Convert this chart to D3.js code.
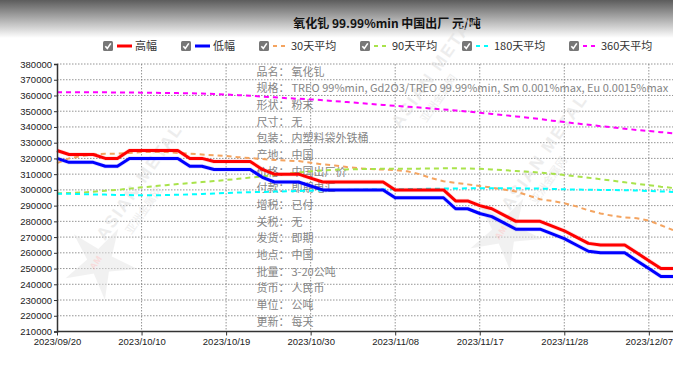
<!DOCTYPE html>
<html>
<head>
<meta charset="utf-8">
<script src="https://cdn.jsdelivr.net/npm/d3@7"></script>
<style>
  body { margin: 0; background: #fff; }
  svg { display: block; font-family: "Liberation Sans", Arial, sans-serif; }
</style>
</head>
<body>
<div id="chart"></div>
<script>
const title = '氧化钆 99.99%min 中国出厂 元/吨'

const dates = ['2023/09/20','2023/09/21','2023/09/22','2023/09/25','2023/09/26','2023/09/27','2023/10/09','2023/10/10',
  '2023/10/11','2023/10/12','2023/10/13','2023/10/16','2023/10/17','2023/10/18','2023/10/19','2023/10/20','2023/10/23',
  '2023/10/24','2023/10/25','2023/10/26','2023/10/27','2023/10/30','2023/10/31','2023/11/01','2023/11/02','2023/11/03',
  '2023/11/06','2023/11/07','2023/11/08','2023/11/09','2023/11/10','2023/11/13','2023/11/14','2023/11/15','2023/11/16',
  '2023/11/17','2023/11/20','2023/11/21','2023/11/22','2023/11/23','2023/11/24','2023/11/27','2023/11/28','2023/11/29',
  '2023/11/30','2023/12/01','2023/12/04','2023/12/05','2023/12/06','2023/12/07','2023/12/08','2023/12/11']

const high = [325000,322500,322500,322500,320000,320000,325000,325000,325000,325000,325000,320000,320000,318000,318000,
  318000,318000,313000,310000,310000,310000,307500,305000,305000,305000,305000,305000,305000,300000,300000,300000,300000,
  300000,293000,293000,290000,288000,284000,280000,280000,280000,277000,274000,270000,266000,265000,265000,265000,260000,
  255000,250000,250000]

const low = [320000,317500,317500,317500,315000,315000,320000,320000,320000,320000,320000,315000,315000,313000,313000,
  313000,313000,308000,305000,305000,305000,302500,300000,300000,300000,300000,300000,300000,295000,295000,295000,295000,
  295000,288000,288000,285000,283000,279000,275000,275000,275000,272000,269000,265000,261000,260000,260000,260000,255000,
  250000,245000,245000]

const ma30 = [317000,320000,321500,322500,323000,323000,323500,324000,324000,324000,323500,323000,322500,322000,321500,
  320800,320200,319600,319000,318600,318300,317300,316200,315500,314500,313700,313200,312900,312600,311800,310000,307500,
  305500,304500,303500,302500,301500,300200,299000,296500,294000,293000,291500,289500,287000,285000,283500,282500,282000,
  280500,277500,274500]

const ma90 = [297800,298000,298300,298800,299500,300000,300800,301600,302300,303000,303700,304300,305000,305600,306300,
  307000,307800,308600,309400,310200,311000,311800,312400,312800,313000,313200,313300,313400,313400,313500,313500,313600,
  313700,313700,313600,313400,313000,312500,312000,311500,311000,310300,309500,308600,307700,306800,305800,304800,303900,
  303000,302000,301200]

const ma180 = [297600,297500,297300,297100,297000,296800,296700,296600,296600,296700,296900,297100,297400,297700,298000,
  298300,298500,298700,298900,299100,299300,299500,299700,299900,300000,300100,300200,300300,300400,300500,300600,300700,
  300800,300900,301000,301000,301000,301000,301000,300900,300800,300600,300400,300200,300100,300000,299900,299800,299600,
  299300,299000,298700]

const ma360 = [362000,362000,362000,362000,362000,361900,361900,361800,361700,361600,361500,361400,361200,361000,360600,
  360200,359800,359300,358800,358300,357900,357500,357000,356400,355800,355200,354600,354000,353400,352900,352300,351700,
  351100,350500,349800,349000,348300,347500,346700,345900,345000,344000,343100,342200,341400,340500,339700,338900,338100,
  337400,336700,336000]

const yTicks = [210000,220000,230000,240000,250000,260000,270000,280000,290000,300000,310000,320000,330000,340000,350000,
  360000,370000,380000]
const xTicks = ['2023/09/20','2023/10/10','2023/10/19','2023/10/30','2023/11/08','2023/11/17','2023/11/28','2023/12/07']

const seriesNames = ['高幅','低幅','30天平均','90天平均','180天平均','360天平均']

const infoLabels = ['品名','规格','形状','尺寸','包装','产地','价格','付款','增税','关税','发货','地点','批量','货币','单位','更新']
const infoValues = ['氧化钆','TREO 99%min, Gd2O3/TREO 99.99%min, Sm 0.001%max, Eu 0.0015%max','粉末','无','内塑料袋外铁桶',
  '中国','中国出厂价','即期电汇','已付','无','即期','中国','3-20公吨','人民币','公吨','每天']

class PriceChart {
  constructor (_config, parentElement) {
    this.config = {
      width: _config.width,
      height: _config.height,
      margin: {top: 64, right: 0, bottom: 39.5, left: 57},
      parentElement: parentElement
    }
    this.config.visWidth = this.config.width - this.config.margin.left - this.config.margin.right
    this.config.visHeight = this.config.height - this.config.margin.top - this.config.margin.bottom
    this.series = [
      {name: seriesNames[0], values: high, color: '#ff0000', width: 3, dash: null},
      {name: seriesNames[1], values: low, color: '#0000ff', width: 3, dash: null},
      {name: seriesNames[2], values: ma30, color: '#f4a460', width: 2, dash: '5,4'},
      {name: seriesNames[3], values: ma90, color: '#a9e34b', width: 2, dash: '5,4'},
      {name: seriesNames[4], values: ma180, color: '#00ffff', width: 2, dash: '5,4'},
      {name: seriesNames[5], values: ma360, color: '#ff00ff', width: 2, dash: '5,4'}
    ]
    // legend checkbox offsets, relative to the first one
    this.legendX = [0, 78, 156, 257, 359, 466]
    this.initVis()
  }

  initVis () {
    const vis = this
    const c = vis.config

    vis.svg = d3.select(c.parentElement).append('svg')
      .attr('width', c.width)
      .attr('height', c.height)

    // header gradient
    const grad = vis.svg.append('defs').append('linearGradient')
      .attr('id', 'hdr').attr('x1', 0).attr('y1', 0).attr('x2', 0).attr('y2', 1)
    grad.append('stop').attr('offset', '0%').attr('stop-color', '#5c5c5c')
    grad.append('stop').attr('offset', '100%').attr('stop-color', '#ffffff')
    vis.svg.append('rect').attr('width', c.width).attr('height', 38).attr('fill', 'url(#hdr)')

    vis.svg.append('text')
      .attr('x', 387).attr('y', 28)
      .attr('text-anchor', 'middle')
      .attr('font-family', '"Noto Sans CJK SC", sans-serif')
      .attr('font-weight', 'bold')
      .attr('font-size', 12)
      .attr('fill', '#111')
      .text(title)

    vis.scaleX = d3.scalePoint()
      .range([c.margin.left, c.width - c.margin.right])

    vis.scaleY = d3.scaleLinear()
      .range([c.margin.top + c.visHeight, c.margin.top])

    vis.gridG = vis.svg.append('g')
    vis.markG = vis.svg.append('g')
    vis.infoG = vis.svg.append('g')
    vis.lineG = vis.svg.append('g')
    vis.axisYGroup = vis.svg.append('g').attr('transform', `translate(${c.margin.left},0)`)
    vis.axisXGroup = vis.svg.append('g').attr('transform', `translate(0,${c.margin.top + c.visHeight})`)
    vis.legendG = vis.svg.append('g').attr('transform', 'translate(103,46)')
  }

  updateVis () {
    const vis = this
    vis.scaleX.domain(dates)
    vis.scaleY.domain([d3.min(yTicks), d3.max(yTicks)])

    vis.axisY = d3.axisLeft(vis.scaleY).tickValues(yTicks).tickSize(3).tickPadding(2).tickFormat(d => d)
    vis.axisX = d3.axisBottom(vis.scaleX).tickValues(xTicks).tickSize(4).tickPadding(3)

    vis.renderVis()
  }

  renderVis () {
    const vis = this
    const c = vis.config
    const x = vis.scaleX, y = vis.scaleY
    const top = c.margin.top, bottom = c.margin.top + c.visHeight

    // grid
    vis.gridG.selectAll('.hgrid').data(yTicks).join('line')
      .attr('class', 'hgrid')
      .attr('x1', c.margin.left).attr('x2', c.width)
      .attr('y1', d => y(d)).attr('y2', d => y(d))
      .attr('stroke', '#7a7a7a').attr('stroke-width', 0.8).attr('stroke-dasharray', '1.5,1.5')
    vis.gridG.selectAll('.vgrid').data(xTicks.slice(1)).join('line')
      .attr('class', 'vgrid')
      .attr('x1', d => x(d)).attr('x2', d => x(d))
      .attr('y1', top).attr('y2', bottom)
      .attr('stroke', '#7a7a7a').attr('stroke-width', 0.8).attr('stroke-dasharray', '1.5,1.5')

    // watermark
    const marks = [{cx: 100, cy: 262}, {cx: 505, cy: 232}, {cx: 395, cy: 150}]
    const star = d3.range(10).map(k => {
      const r = k % 2 ? 13 : 38
      const a = -Math.PI / 2 + k * Math.PI / 5 + 0.5
      return [r * Math.cos(a), r * Math.sin(a)]
    })
    marks.forEach((m, k) => {
      const g = vis.markG.append('g').attr('transform', `translate(${m.cx},${m.cy})`).attr('opacity', 0.5)
      if (k < 2) {
        g.append('path').attr('d', d3.line()(star) + 'Z').attr('fill', '#e4e4e4')
        g.append('text').attr('x', -10).attr('y', 0).attr('transform', 'rotate(-55)')
          .attr('font-size', 9).attr('font-weight', 'bold').attr('fill', '#f3b8b8').text('AM')
      }
      g.append('text').attr('x', 20).attr('y', -8).attr('transform', 'rotate(-55)')
        .attr('font-size', 17).attr('font-weight', 'bold').attr('letter-spacing', 2)
        .attr('fill', '#dcdcdc').text('ASIAN METAL')
      g.append('text').attr('x', 40).attr('y', 10).attr('transform', 'rotate(-55)')
        .attr('font-family', '"Noto Sans CJK SC", sans-serif')
        .attr('font-size', 11).attr('fill', '#dcdcdc').text('亚洲金属网')
    })

    // info block
    const rowStep = 16.67
    vis.infoG.selectAll('.lbl').data(infoLabels).join('text')
      .attr('class', 'lbl')
      .attr('x', 256.5).attr('y', (d, i) => 75.5 + i * rowStep)
      .attr('font-family', '"Noto Sans CJK SC", sans-serif').attr('font-size', 11)
      .attr('fill', '#858585').text(d => d + '：')
    vis.infoG.selectAll('.val').data(infoValues).join('text')
      .attr('class', 'val')
      .attr('x', 291.5).attr('y', (d, i) => 75.5 + i * rowStep)
      .attr('font-family', '"Noto Sans CJK SC", sans-serif').attr('font-size', 11)
      .attr('fill', '#858585').text(d => d)

    // lines
    const line = d3.line().x((d, i) => x(dates[i])).y(d => y(d))
    const drawOrder = [vis.series[2], vis.series[3], vis.series[4], vis.series[5], vis.series[0], vis.series[1]]
    drawOrder.forEach(s => {
      if (!s.dash) {
        vis.lineG.append('path').attr('d', line(s.values))
          .attr('fill', 'none').attr('stroke', s.color).attr('stroke-opacity', 0.12)
          .attr('stroke-width', 4.5).attr('stroke-linejoin', 'round')
      }
      vis.lineG.append('path').attr('d', line(s.values))
        .attr('fill', 'none').attr('stroke', s.color)
        .attr('stroke-width', s.width).attr('stroke-linejoin', 'round')
        .attr('stroke-dasharray', s.dash)
    })

    // axes
    vis.axisYGroup.call(vis.axisY)
    vis.axisXGroup.call(vis.axisX)
    ;[vis.axisYGroup, vis.axisXGroup].forEach(g => {
      g.select('.domain').attr('stroke', '#333').attr('stroke-width', 1.5)
      g.selectAll('.tick line').attr('stroke', '#333')
      g.selectAll('.tick text').attr('fill', '#222').attr('font-size', 9.5)
        .attr('font-family', '"Liberation Sans", Arial, sans-serif')
    })
    vis.axisXGroup.select('.domain').attr('d', `M${c.margin.left},0H${c.width}`)

    // legend
    vis.series.forEach((s, i) => {
      const g = vis.legendG.append('g').attr('transform', `translate(${vis.legendX[i]},0)`)
      g.append('rect').attr('x', 0).attr('y', -5).attr('width', 10).attr('height', 10)
        .attr('rx', 1.5).attr('fill', '#777')
      g.append('path').attr('d', 'M2.3,0.2L4.3,2.4L7.8,-2.6')
        .attr('fill', 'none').attr('stroke', '#fff').attr('stroke-width', 1.6)
      g.append('line').attr('x1', 14).attr('x2', 29).attr('y1', 0).attr('y2', 0)
        .attr('stroke', s.color).attr('stroke-width', s.dash ? 2 : 3)
        .attr('stroke-dasharray', s.dash ? '4,4' : null)
      g.append('text').attr('x', 32).attr('y', 4)
        .attr('font-family', '"Noto Sans CJK SC", sans-serif').attr('font-size', 11)
        .attr('fill', '#333').text(s.name)
    })
  }
}

const chart = new PriceChart({width: 673, height: 371}, '#chart')
chart.updateVis()
</script>
</body>
</html>
